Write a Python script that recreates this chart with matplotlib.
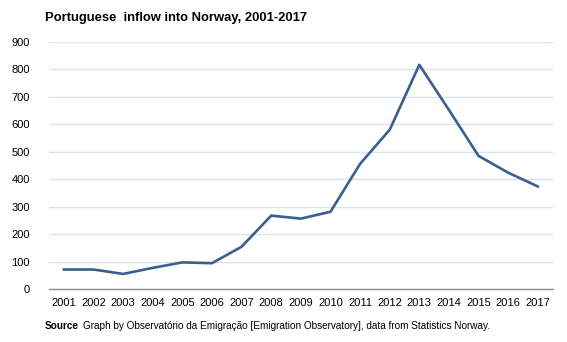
import matplotlib
matplotlib.use("Agg")
from matplotlib import pyplot as plt

years = list(range(2001, 2018))
inflow = [72, 72, 56, 78, 98, 95, 155, 268, 257, 282, 456, 580, 816, 652, 485, 424, 374]
yticks = list(range(0, 1000, 100))

plt.rcParams['font.family'] = ['Liberation Sans', 'DejaVu Sans']

fig = plt.figure(figsize=(5.67, 3.42), dpi=100)
ax = fig.add_axes([0.0866, 0.154, 0.888, 0.724])

ax.plot(years, inflow, color="#3a5f8f", linewidth=1.9, zorder=3)

ax.set_xlim(2000.5, 2017.5)
ax.set_ylim(0, 900)
ax.set_xticks(years)
ax.set_xticklabels([str(y) for y in years], fontsize=8)
ax.set_yticks(yticks)
ax.set_yticklabels([str(v) for v in yticks], fontsize=8)
ax.tick_params(axis="both", length=0, colors="black")
ax.tick_params(axis="y", pad=14)
ax.tick_params(axis="x", pad=6)

ax.grid(axis="y", color="#d9e3ee", linewidth=1.0)
ax.set_axisbelow(True)
for side in ["left", "right", "top"]:
    ax.spines[side].set_visible(False)
ax.spines["bottom"].set_color("#8c8c8c")
ax.spines["bottom"].set_linewidth(1.0)
ax.spines["bottom"].set_zorder(4)

fig.text(45 / 567, 1 - 18 / 342, "Portuguese  inflow into Norway, 2001-2017",
         fontsize=9.4, fontweight="bold", va="center", ha="left")
fig.text(45 / 567, 1 - 326 / 342, "Source", fontsize=7.2, fontweight="bold",
         va="center", ha="left")
fig.text(83 / 567, 1 - 326 / 342,
         "Graph by Observatório da Emigração [Emigration Observatory], data from Statistics Norway.",
         fontsize=7.2, va="center", ha="left")

fig.savefig("out.png", dpi=100)
